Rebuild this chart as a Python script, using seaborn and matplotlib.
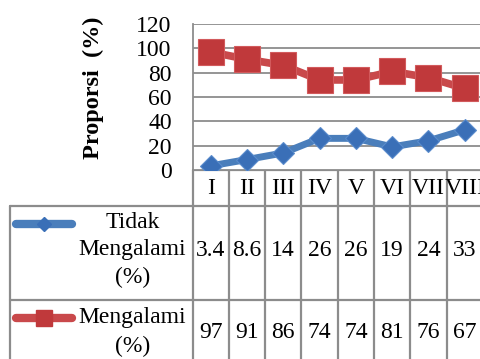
import numpy as np
import pandas as pd
import matplotlib
matplotlib.use("Agg")
import matplotlib.pyplot as plt
import matplotlib.transforms as mtransforms
import seaborn as sns

categories = ["I", "II", "III", "IV", "V", "VI", "VII", "VIII"]
tidak = [3.4, 8.6, 14, 26, 26, 19, 24, 33]
mengalami = [97, 91, 86, 74, 74, 81, 76, 67]
tidakLabels = ["3.4", "8.6", "14", "26", "26", "19", "24", "33"]
mengalamiLabels = ["97", "91", "86", "74", "74", "81", "76", "67"]
yTicks = [0, 20, 40, 60, 80, 100, 120]

blueLine = "#4a7ebb"
blueMark = "#3a6fb7"
redLine = "#c9494b"
redMark = "#c0393b"
gridColor = "#8c8c8c"
fontSize = 17

sns.set_style("white")
plt.rcParams["font.family"] = ["Liberation Serif", "DejaVu Serif"]
plt.rcParams["text.color"] = "black"
plt.rcParams["axes.labelcolor"] = "black"
plt.rcParams["ytick.color"] = "black"

df = pd.DataFrame({"x": np.arange(len(categories)), "tidak": tidak, "mengalami": mengalami})

W, H = 480, 359
fig = plt.figure(figsize=(4.8, 3.59), dpi=100)
ax = fig.add_axes([192.5 / W, (H - 170) / H, 290.4 / W, 146 / H])

sns.lineplot(data=df, x="x", y="tidak", ax=ax, color=blueLine, lw=5,
             marker="D", markersize=11, markerfacecolor=blueMark,
             markeredgecolor="#5a8ccc", markeredgewidth=0.8, legend=False, zorder=4)
sns.lineplot(data=df, x="x", y="mengalami", ax=ax, color=redLine, lw=5.5,
             marker="s", markersize=18.5, markerfacecolor=redMark,
             markeredgecolor="#d25a5c", markeredgewidth=0.8, legend=False, zorder=4)

ax.set_xlim(-0.5, len(categories) - 0.5)
ax.set_ylim(0, 120)
ax.set_yticks(yTicks)
ax.set_yticklabels([str(v) for v in yTicks], fontsize=fontSize)
ax.set_xticks([])
ax.set_xlabel("")
ax.set_ylabel("Proporsi  (%)", fontsize=17.5, fontweight="bold", labelpad=23)
ax.tick_params(axis="y", length=0, pad=15)
ax.yaxis.grid(True, color=gridColor, lw=1.3)
ax.set_axisbelow(True)
for side in ["top", "right", "bottom"]:
    ax.spines[side].set_visible(False)
ax.spines["left"].set_color(gridColor)
ax.spines["left"].set_linewidth(1.3)
ax.yaxis.label.set_position((0, 0.56))

# data table below the plot
tab = fig.add_axes([0, 0, 1, 1], zorder=-1)
tab.set_xlim(0, W)
tab.set_ylim(H, 0)
tab.axis("off")
tr = mtransforms.blended_transform_factory(ax.transData, tab.transData)

rowTop, row1Top, row2Top, bottom = 170, 206, 300, 365
n = len(categories)
lineKw = dict(color=gridColor, lw=1.6, clip_on=False)
for b in np.arange(n + 1) - 0.5:
    tab.plot([b, b], [rowTop, bottom], transform=tr, **lineKw)
tab.plot([-0.5, n - 0.5], [rowTop, rowTop], transform=tr, **lineKw)
tab.plot([10, 192.5], [row1Top, row1Top], **lineKw)
tab.plot([10, 192.5], [row2Top, row2Top], **lineKw)
tab.plot([-0.5, n - 0.5], [row1Top, row1Top], transform=tr, **lineKw)
tab.plot([-0.5, n - 0.5], [row2Top, row2Top], transform=tr, **lineKw)
tab.plot([10, 10], [row1Top, bottom], **lineKw)

for i, c in enumerate(categories):
    tab.text(i, 188, c, transform=tr, ha="center", va="center", fontsize=fontSize)
    tab.text(i, 251, tidakLabels[i], transform=tr, ha="center", va="center", fontsize=fontSize)
    tab.text(i, 332, mengalamiLabels[i], transform=tr, ha="center", va="center", fontsize=fontSize)

# legend keys in the row headers
tab.plot([16, 72], [224, 224], color=blueLine, lw=6, solid_capstyle="round")
tab.plot([44], [224], marker="D", markersize=7, color=blueMark, ls="none")
tab.plot([16, 72], [318, 318], color=redLine, lw=6, solid_capstyle="round")
tab.plot([44], [318], marker="s", markersize=11, color=redMark, ls="none")

tab.text(133, 222, "Tidak", ha="center", va="center", fontsize=fontSize)
tab.text(132, 250, "Mengalami", ha="center", va="center", fontsize=fontSize)
tab.text(133, 277, "(%)", ha="center", va="center", fontsize=fontSize)
tab.text(132, 318, "Mengalami", ha="center", va="center", fontsize=fontSize)
tab.text(133, 346, "(%)", ha="center", va="center", fontsize=fontSize)

fig.savefig("out.png", dpi=100)
